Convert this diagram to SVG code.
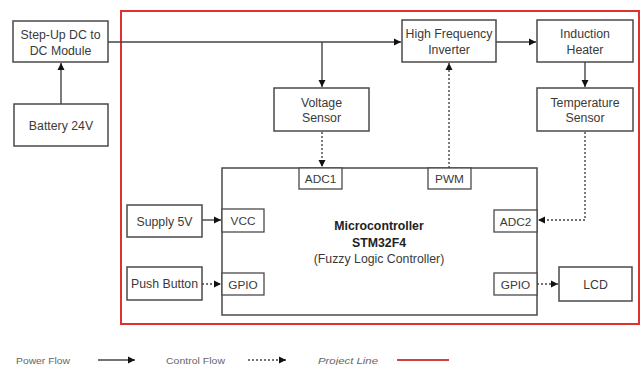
<svg xmlns="http://www.w3.org/2000/svg" width="641" height="365" viewBox="0 0 641 365">
<style>
.box{fill:#fff;stroke:#4a4a4a;stroke-width:1.5}
.port{fill:#fff;stroke:#4a4a4a;stroke-width:1.3}
.t{font-family:"Liberation Sans",Arial,sans-serif;font-size:12.3px;fill:#3a3a3a;text-anchor:middle}
.p{font-size:11.8px}
.b{font-weight:bold;fill:#222}
.pw{fill:none;stroke:#444;stroke-width:1.4}
.cf{fill:none;stroke:#444;stroke-width:1.4;stroke-dasharray:2,2}
.lg{font-family:"Liberation Sans",Arial,sans-serif;font-size:8.5px;fill:#666}
</style>
<defs>
<marker id="ah" markerWidth="8" markerHeight="8" refX="7" refY="4" orient="auto" markerUnits="userSpaceOnUse">
<path d="M0,0.5 L7,4 L0,7.5 z" fill="#111"/>
</marker>
</defs>
<rect width="641" height="365" fill="#fff"/>
<rect x="121" y="11" width="518" height="313" fill="none" stroke="#e03030" stroke-width="2"/>
<g id="connectors">
<path class="pw" d="M61,104 V63" marker-end="url(#ah)"/>
<path class="pw" d="M108,42 H401" marker-end="url(#ah)"/>
<path class="pw" d="M322,42 V87" marker-end="url(#ah)"/>
<path class="pw" d="M496,42 H536" marker-end="url(#ah)"/>
<path class="pw" d="M585,62 V87" marker-end="url(#ah)"/>
<path class="cf" d="M322,132 V167" marker-end="url(#ah)"/>
<path class="cf" d="M449,168 V63" marker-end="url(#ah)"/>
<path class="cf" d="M585,132 V220 H538" marker-end="url(#ah)"/>
<path class="pw" d="M202,220 H221" marker-end="url(#ah)"/>
<path class="cf" d="M202,284 H221" marker-end="url(#ah)"/>
<path class="cf" d="M537,284 H558" marker-end="url(#ah)"/>
</g>
<g id="stepup"><rect class="box" x="13" y="21" width="95" height="41"/><text class="t" x="60.5" y="39">Step-Up DC to</text><text class="t" x="60.5" y="54.5">DC Module</text></g>
<g id="battery"><rect class="box" x="14" y="104" width="94" height="42"/><text class="t" x="61" y="130">Battery 24V</text></g>
<g id="inverter"><rect class="box" x="402" y="20" width="94" height="42"/><text class="t" x="449" y="38">High Frequency</text><text class="t" x="449" y="53.5">Inverter</text></g>
<g id="heater"><rect class="box" x="537" y="20" width="96" height="42"/><text class="t" x="585" y="38">Induction</text><text class="t" x="585" y="53.5">Heater</text></g>
<g id="vsensor"><rect class="box" x="274" y="88" width="95" height="43"/><text class="t" x="321.5" y="106.5">Voltage</text><text class="t" x="321.5" y="122">Sensor</text></g>
<g id="tsensor"><rect class="box" x="537" y="88" width="96" height="43"/><text class="t" x="585" y="106.5">Temperature</text><text class="t" x="585" y="122">Sensor</text></g>
<g id="mcu"><rect class="box" x="222" y="168" width="315" height="147"/>
<text class="t b" x="379" y="230">Microcontroller</text>
<text class="t b" x="379" y="246.5">STM32F4</text>
<text class="t" x="379" y="263">(Fuzzy Logic Controller)</text></g>
<g id="adc1"><rect class="port" x="299" y="168" width="43" height="21"/><text class="t p" x="320.5" y="183">ADC1</text></g>
<g id="pwm"><rect class="port" x="428" y="168" width="43" height="21"/><text class="t p" x="449.5" y="183">PWM</text></g>
<g id="vcc"><rect class="port" x="222" y="209" width="42" height="23"/><text class="t p" x="243" y="225">VCC</text></g>
<g id="gpio1"><rect class="port" x="222" y="273" width="42" height="22"/><text class="t p" x="243" y="288.5">GPIO</text></g>
<g id="adc2"><rect class="port" x="494" y="210" width="43" height="22"/><text class="t p" x="515.5" y="225.5">ADC2</text></g>
<g id="gpio2"><rect class="port" x="494" y="273" width="43" height="22"/><text class="t p" x="515.5" y="288.5">GPIO</text></g>
<g id="supply"><rect class="box" x="127" y="205" width="75" height="32"/><text class="t" x="164.5" y="225.5">Supply 5V</text></g>
<g id="button"><rect class="box" x="127" y="267" width="75" height="33"/><text class="t" x="164.5" y="288">Push Button</text></g>
<g id="lcd"><rect class="box" x="559" y="267" width="73" height="34"/><text class="t" x="595.5" y="288.5">LCD</text></g>
<g id="legend">
<text class="lg" x="16" y="364" textLength="54" lengthAdjust="spacingAndGlyphs">Power Flow</text>
<path class="pw" d="M98,360 H135" marker-end="url(#ah)"/>
<text class="lg" x="166" y="364" textLength="59" lengthAdjust="spacingAndGlyphs">Control Flow</text>
<path class="cf" d="M248,360 H286" marker-end="url(#ah)"/>
<text class="lg" x="318" y="364" font-style="italic" textLength="60" lengthAdjust="spacingAndGlyphs">Project Line</text>
<path d="M397,360 H449" stroke="#d04040" stroke-width="2"/>
</g>
</svg>
